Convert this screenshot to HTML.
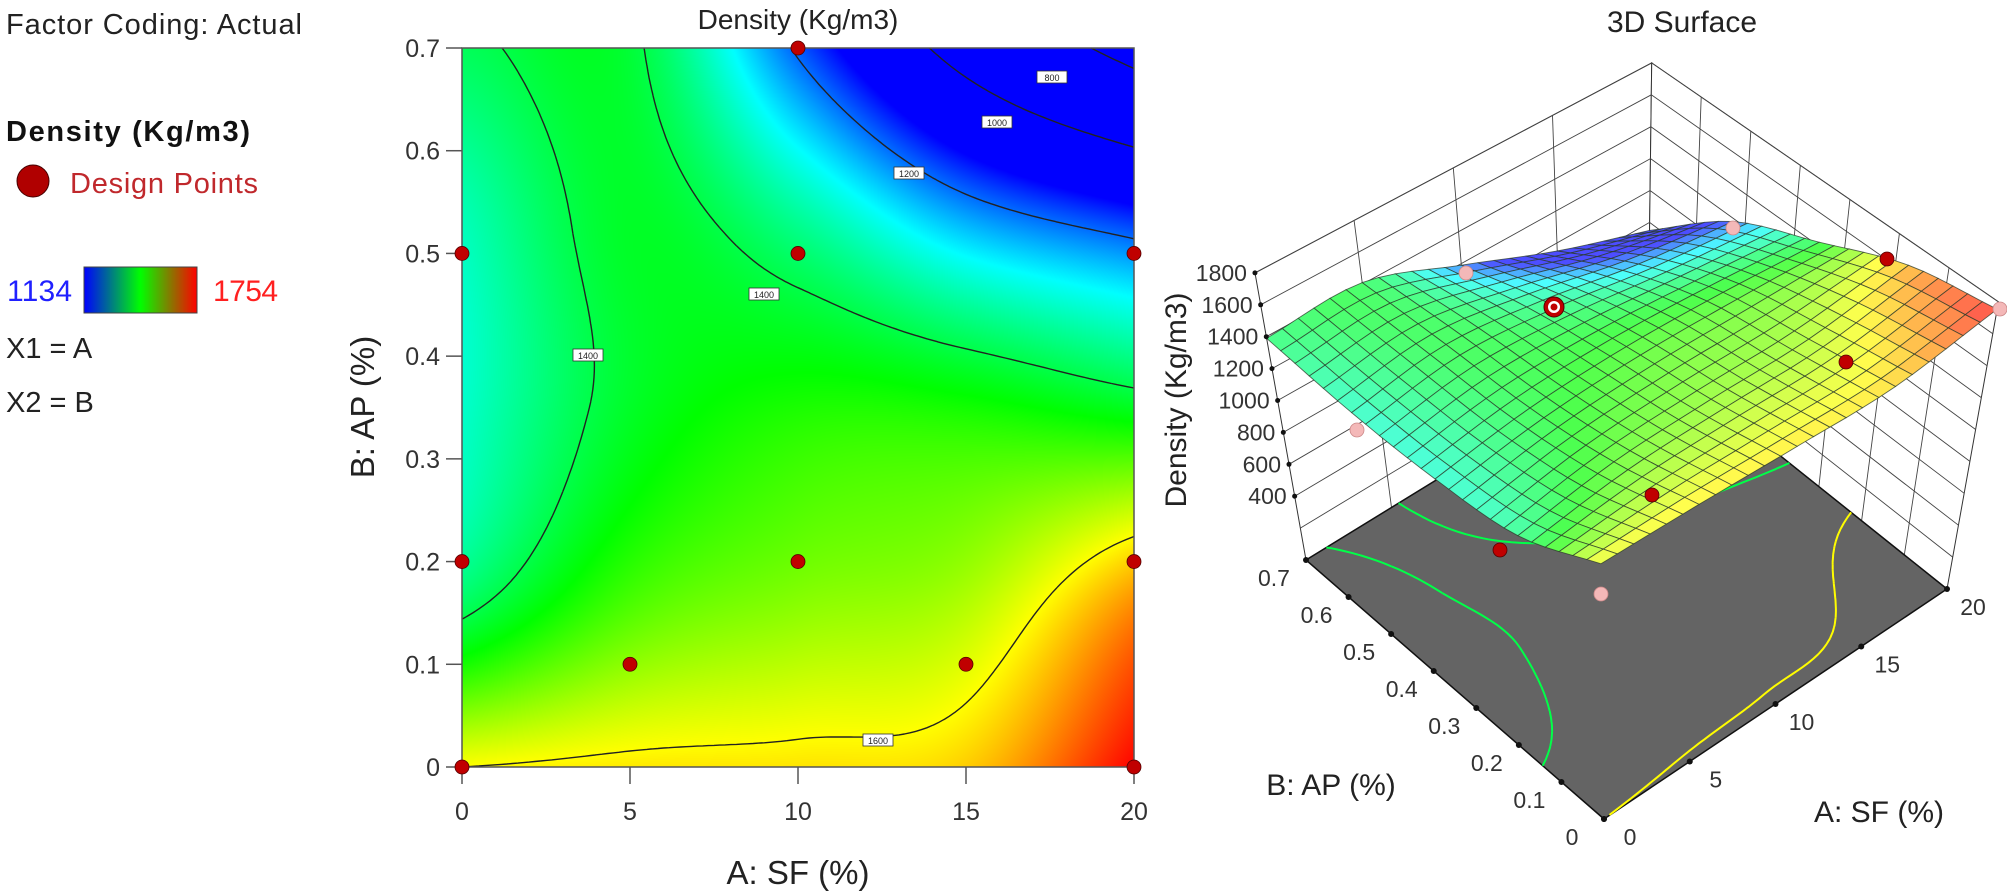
<!DOCTYPE html>
<html><head><meta charset="utf-8">
<style>
html,body{margin:0;padding:0;background:#fff;}
#wrap{position:relative;width:2007px;height:892px;overflow:hidden;font-family:"Liberation Sans",sans-serif;}
canvas{position:absolute;left:462px;top:48px;}
svg{position:absolute;left:0;top:0;}
</style></head>
<body><div id="wrap">
<canvas id="hm" width="672" height="719"></canvas>
<svg id="sv" width="2007" height="892" xmlns="http://www.w3.org/2000/svg" font-family="Liberation Sans, sans-serif">
<defs><linearGradient id="lg" x1="0" x2="1" y1="0" y2="0">
<stop offset="0" stop-color="#0000ff"/><stop offset="0.5" stop-color="#00ff00"/><stop offset="1" stop-color="#ff0000"/></linearGradient></defs>
<text x="6" y="34" font-size="29" fill="#222" textLength="296">Factor Coding: Actual</text>
<text x="6" y="141" font-size="29" font-weight="bold" fill="#111" textLength="244">Density (Kg/m3)</text>
<circle cx="33" cy="181" r="16" fill="#b00000" stroke="#400" stroke-width="1"/>
<text x="70" y="193" font-size="29" fill="#c0282c" textLength="188">Design Points</text>
<text x="7" y="301" font-size="30" fill="#2020ff" textLength="65">1134</text>
<rect x="84" y="267" width="113" height="46" fill="url(#lg)" stroke="#444"/>
<text x="213" y="301" font-size="30" fill="#ff2020" textLength="65">1754</text>
<text x="6" y="358" font-size="29" fill="#222">X1 = A</text>
<text x="6" y="412" font-size="29" fill="#222">X2 = B</text>
<g id="g2d"></g>
<g id="g3d"></g>
</svg>
</div>
<script>
var NS="http://www.w3.org/2000/svg";
function el(p,t,a,txt){var e=document.createElementNS(NS,t);for(var k in a)e.setAttribute(k,a[k]);if(txt!=null)e.textContent=txt;p.appendChild(e);return e;}
var T=[[1600,1612,1615,1630,1754],
       [1370,1480,1520,1545,1655],
       [1320,1420,1460,1455,1425],
       [1330,1420,1360,1250,1180],
       [1390,1410,1190,950,750]];
function cr(vals,t){var x=t*4;var i=Math.floor(x);if(i>3)i=3;if(i<0)i=0;var s=x-i;
 function g(k){if(k<0)return 2*vals[0]-vals[1];if(k>4)return 2*vals[4]-vals[3];return vals[k];}
 var p0=g(i-1),p1=g(i),p2=g(i+1),p3=g(i+2);
 return 0.5*((2*p1)+(-p0+p2)*s+(2*p0-5*p1+4*p2-p3)*s*s+(-p0+3*p1-3*p2+p3)*s*s*s);}
function D(a,b){var u=a/20,v=b/0.7;var col=T.map(function(r){return cr(r,u);});return cr(col,v);}
function cmap(d){var t=(d-1134)/620;if(t<0)t=0;if(t>1)t=1;var r,g,b;
 if(t<0.25){var s=t/0.25;r=0;g=255*s;b=255;}else if(t<0.5){var s=(t-0.25)/0.25;r=0;g=255;b=255*(1-s);}
 else if(t<0.75){var s=(t-0.5)/0.25;r=255*s;g=255;b=0;}else{var s=(t-0.75)/0.25;r=255;g=255*(1-s);b=0;}
 return [r,g,b];}
var cv=document.getElementById('hm'),cx=cv.getContext('2d'),W=672,H=719,im=cx.createImageData(W,H);
for(var y=0;y<H;y++)for(var x=0;x<W;x++){var a=x/W*20,b=(1-y/H)*0.7,c=cmap(D(a,b)),i=(y*W+x)*4;im.data[i]=c[0];im.data[i+1]=c[1];im.data[i+2]=c[2];im.data[i+3]=255;}
cx.putImageData(im,0,0);
function contour(level,N){var segs=[];for(var i=0;i<N;i++)for(var j=0;j<N;j++){
 var a0=20*i/N,a1=20*(i+1)/N,b0=0.7*j/N,b1=0.7*(j+1)/N;
 var c=[[a0,b0,D(a0,b0)],[a1,b0,D(a1,b0)],[a1,b1,D(a1,b1)],[a0,b1,D(a0,b1)]],pts=[];
 for(var k=0;k<4;k++){var p=c[k],q=c[(k+1)%4];if((p[2]-level)*(q[2]-level)<0){var t=(level-p[2])/(q[2]-p[2]);pts.push([p[0]+t*(q[0]-p[0]),p[1]+t*(q[1]-p[1])]);}}
 if(pts.length>=2)segs.push([pts[0],pts[1]]);if(pts.length==4)segs.push([pts[2],pts[3]]);}
 return segs;}
var g2=document.getElementById('g2d');
function X(a){return 462+a*33.6;}function Y(b){return 767-b*1027.14;}
[800,1000,1200,1400,1600].forEach(function(L){var s=contour(L,120),d='';s.forEach(function(g){d+='M'+X(g[0][0]).toFixed(1)+' '+Y(g[0][1]).toFixed(1)+'L'+X(g[1][0]).toFixed(1)+' '+Y(g[1][1]).toFixed(1);});el(g2,'path',{d:d,stroke:'#222',fill:'none','stroke-width':1.4});});
[[1052,77,'800'],[997,122,'1000'],[909,173,'1200'],[764,294,'1400'],[588,355,'1400'],[878,740,'1600']].forEach(function(l){el(g2,'rect',{x:l[0]-15,y:l[1]-6,width:30,height:12,fill:'#fff',stroke:'#333','stroke-width':0.8});el(g2,'text',{x:l[0],y:l[1]+4,'font-size':9,'text-anchor':'middle',fill:'#222'},l[2]);});
el(g2,'rect',{x:462,y:48,width:672,height:719,fill:'none',stroke:'#555','stroke-width':1.5});
for(var k=0;k<=7;k++){var yy=Y(k/10);el(g2,'line',{x1:446,y1:yy,x2:462,y2:yy,stroke:'#555','stroke-width':1.5});el(g2,'text',{x:440,y:yy+9,'font-size':25,'text-anchor':'end',fill:'#333'},k==0?'0':(k/10).toFixed(1));}
for(var k=0;k<=4;k++){var xx=X(k*5);el(g2,'line',{x1:xx,y1:767,x2:xx,y2:784,stroke:'#555','stroke-width':1.5});el(g2,'text',{x:xx,y:820,'font-size':25,'text-anchor':'middle',fill:'#333'},String(k*5));}
el(g2,'text',{x:798,y:29,'font-size':28,'text-anchor':'middle',fill:'#222'},'Density (Kg/m3)');
el(g2,'text',{x:798,y:884,'font-size':33,'text-anchor':'middle',fill:'#222'},'A: SF (%)');
el(g2,'text',{x:0,y:0,'font-size':33,'text-anchor':'middle',fill:'#222',transform:'translate(374,407) rotate(-90)'},'B: AP (%)');
[[0,0.5],[10,0.7],[10,0.5],[20,0.5],[0,0.2],[10,0.2],[20,0.2],[5,0.1],[15,0.1],[0,0],[20,0]].forEach(function(p){el(g2,'circle',{cx:X(p[0]),cy:Y(p[1]),r:7,fill:'#c00000',stroke:'#500','stroke-width':0.8});});
var g3=document.getElementById('g3d');
var C00=[1604,819],C10=[1947,589],C01=[1306,560],C11=[1648,350];
function F(u,v){return[(1-u)*(1-v)*C00[0]+u*(1-v)*C10[0]+(1-u)*v*C01[0]+u*v*C11[0],(1-u)*(1-v)*C00[1]+u*(1-v)*C10[1]+(1-u)*v*C01[1]+u*v*C11[1]];}
function P(u,v,z){var f=F(u,v);return[f[0]+(f[0]-1625)*0.16*z/1800,f[1]-z*0.1595];}
function pt(p){return p[0].toFixed(1)+','+p[1].toFixed(1);}
el(g3,'polygon',{points:[P(0,1,0),P(1,1,0),P(1,1,1800),P(0,1,1800)].map(pt).join(' '),fill:'#fff',stroke:'#333','stroke-width':1});
el(g3,'polygon',{points:[P(1,1,0),P(1,0,0),P(1,0,1800),P(1,1,1800)].map(pt).join(' '),fill:'#fff',stroke:'#333','stroke-width':1});
var wl='';
for(var z=200;z<=1800;z+=200){wl+='M'+pt(P(0,1,z))+'L'+pt(P(1,1,z))+'L'+pt(P(1,0,z));}
for(var k=1;k<4;k++){wl+='M'+pt(P(k/4,1,0))+'L'+pt(P(k/4,1,1800));}
for(var k=1;k<7;k++){wl+='M'+pt(P(1,k/7,0))+'L'+pt(P(1,k/7,1800));}
el(g3,'path',{d:wl,stroke:'#444','stroke-width':0.9,fill:'none'});
el(g3,'polygon',{points:[F(0,0),F(1,0),F(1,1),F(0,1)].map(pt).join(' '),fill:'#646464',stroke:'#111','stroke-width':1.5});
[1000,1200,1400,1600].forEach(function(L){var s=contour(L,60),d='',c=cmap(L);s.forEach(function(g){d+='M'+pt(F(g[0][0]/20,g[0][1]/0.7))+'L'+pt(F(g[1][0]/20,g[1][1]/0.7));});el(g3,'path',{d:d,stroke:'rgb('+c.map(Math.round).join(',')+')',fill:'none','stroke-width':2});});
var N=24,quads=[];
for(var i=0;i<N;i++)for(var j=0;j<N;j++)quads.push([i,j]);
quads.sort(function(p,q){return (q[0]+q[1])-(p[0]+p[1]);});
quads.forEach(function(q){var u0=q[0]/N,u1=(q[0]+1)/N,v0=q[1]/N,v1=(q[1]+1)/N;
 var pts=[[u0,v0],[u1,v0],[u1,v1],[u0,v1]].map(function(w){return P(w[0],w[1],D(w[0]*20,w[1]*0.7));});
 var c=cmap(D((u0+u1)*10,(v0+v1)*0.35)),cc=c.map(function(x){return Math.round(x*0.7+255*0.3);});
 el(g3,'polygon',{points:pts.map(pt).join(' '),fill:'rgb('+cc.join(',')+')',stroke:'#2a3a2a','stroke-width':0.9,'stroke-opacity':0.75});});
for(var z=400;z<=1800;z+=200){var p=P(0,1,z);el(g3,'circle',{cx:p[0],cy:p[1],r:2.5,fill:'#111'});el(g3,'text',{x:p[0]-8,y:p[1]+8,'font-size':23,'text-anchor':'end',fill:'#333'},String(z));}
for(var k=0;k<=7;k++){var f=F(0,k/7);el(g3,'circle',{cx:f[0],cy:f[1],r:3,fill:'#111'});el(g3,'text',{x:f[0]-32,y:f[1]+26,'font-size':23,'text-anchor':'middle',fill:'#333'},k==0?'0':(k/10).toFixed(1));}
for(var k=0;k<=4;k++){var f=F(k/4,0);el(g3,'circle',{cx:f[0],cy:f[1],r:3,fill:'#111'});el(g3,'text',{x:f[0]+26,y:f[1]+26,'font-size':23,'text-anchor':'middle',fill:'#333'},String(k*5));}
el(g3,'text',{x:1682,y:32,'font-size':30,'text-anchor':'middle',fill:'#222'},'3D Surface');
el(g3,'text',{x:0,y:0,'font-size':30,'text-anchor':'middle',fill:'#222',transform:'translate(1186,400) rotate(-90)'},'Density (Kg/m3)');
el(g3,'text',{x:1331,y:795,'font-size':30,'text-anchor':'middle',fill:'#222'},'B: AP (%)');
el(g3,'text',{x:1879,y:822,'font-size':30,'text-anchor':'middle',fill:'#222'},'A: SF (%)');
[[1733,228,0],[1466,273,0],[1887,259,1],[2000,309,0],[1846,362,1],[1357,430,0],[1652,495,1],[1500,550,1],[1601,594,0]].forEach(function(p){el(g3,'circle',{cx:p[0],cy:p[1],r:7,fill:p[2]?'#c00000':'#f4b8b8',stroke:p[2]?'#500':'#c88','stroke-width':0.8});});
el(g3,'circle',{cx:1554,cy:307,r:10,fill:'#c00000',stroke:'#500'});el(g3,'circle',{cx:1554,cy:307,r:6,fill:'#fff'});el(g3,'circle',{cx:1554,cy:307,r:3.5,fill:'#c00000'});
</script>
</body></html>
